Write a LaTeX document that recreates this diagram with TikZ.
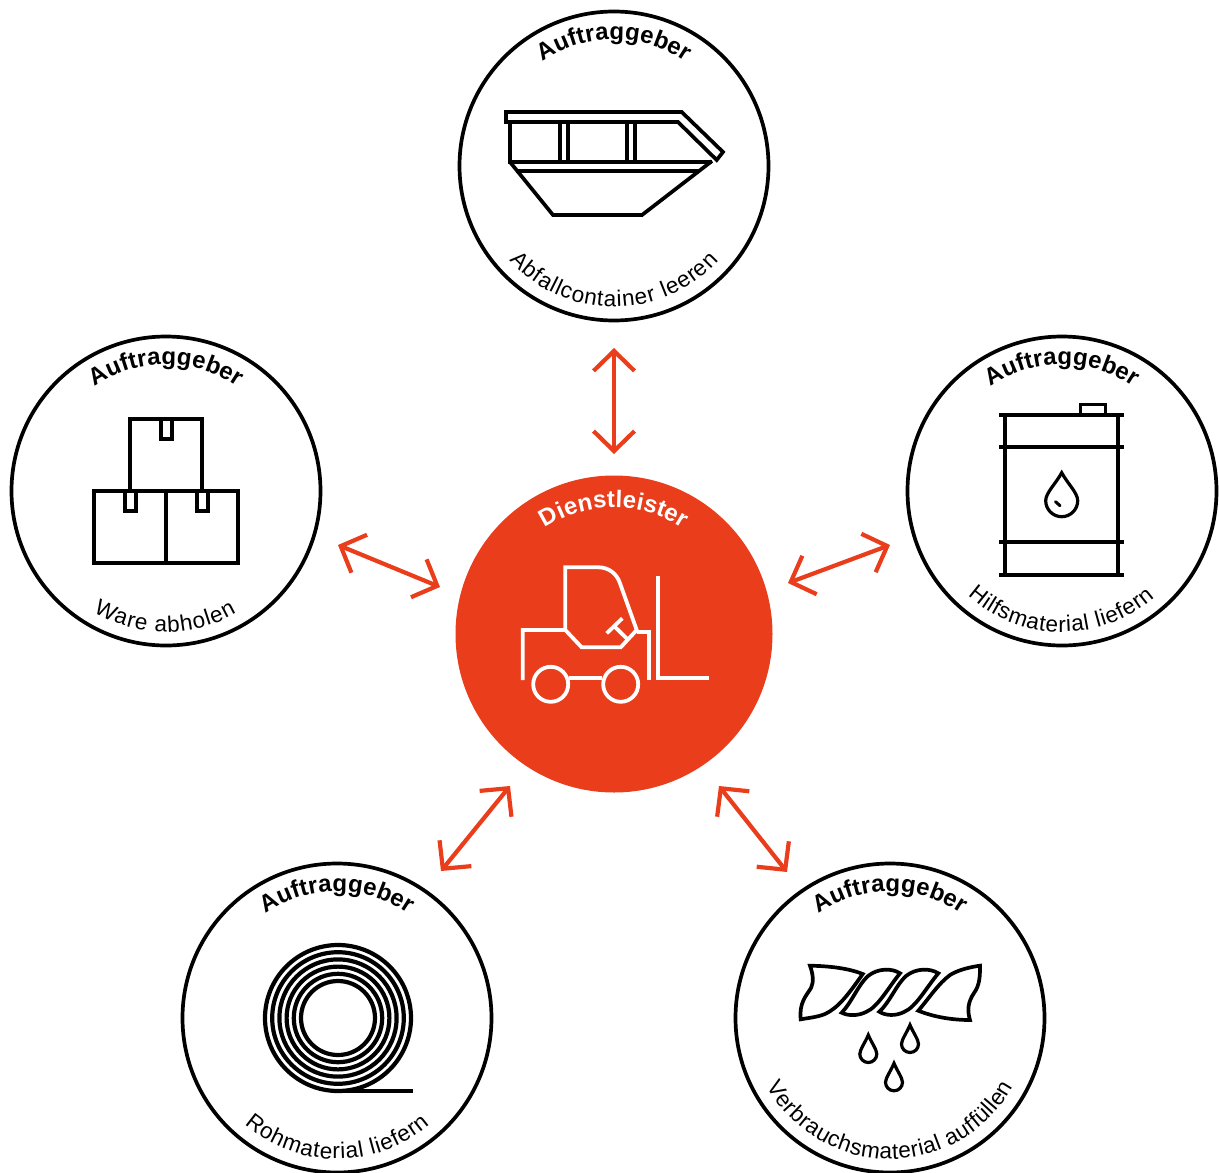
\documentclass[tikz,border=0pt]{standalone}
\usepackage{fontspec}
\setmainfont{Liberation Sans}
\usetikzlibrary{arrows.meta,decorations.text}
\definecolor{brandred}{HTML}{E93D1B}
\newcommand\hdfont{\bfseries\fontsize{24}{26}\selectfont}
\newcommand\lbfont{\fontsize{22.5}{25}\selectfont}
\newcommand\arctext[6]{% cx,cy,radius,start,end,text
  \begin{scope}[shift={(#1,#2)},y=1pt]
    \path[decorate,decoration={text along path,text align=fit to path,text={#6}}]
      (#4:#3) arc[start angle=#4,end angle=#5,radius=#3];
  \end{scope}}
\newcommand\dropshape[4]{% x,y(centre),r,h(tip above centre)
  \draw[iconline,line width=3.2pt] (#1,#2-#4) .. controls (#1+0.35*#3,#2-0.62*#4) and (#1+#3,#2-0.5*#3) .. (#1+#3,#2)
    .. controls (#1+#3,#2+0.55*#3) and (#1+0.55*#3,#2+#3) .. (#1,#2+#3)
    .. controls (#1-0.55*#3,#2+#3) and (#1-#3,#2+0.55*#3) .. (#1-#3,#2)
    .. controls (#1-#3,#2-0.5*#3) and (#1-0.35*#3,#2-0.62*#4) .. cycle;}
\tikzset{
  client/.style={circle,draw=black,line width=3.7pt,fill=white,minimum size=309pt,inner sep=0pt},
  provider/.style={circle,fill=brandred,minimum size=317pt,inner sep=0pt},
  biarrow/.style={draw=brandred,line width=4.2pt,{Straight Barb[length=20pt,width=41pt,line width=4.2pt]}-{Straight Barb[length=20pt,width=41pt,line width=4.2pt]}},
  iconline/.style={draw=black,line width=3.7pt,line join=miter},
  liftline/.style={draw=white,line width=3.8pt,line join=miter},
}
\begin{document}
\begin{tikzpicture}[x=1pt,y=-1pt]
\useasboundingbox (0,0) rectangle (1219,1173);
\node[client] (ctop) at (614,166) {};
\node[client] (cleft) at (166,491) {};
\node[client] (cright) at (1062,491) {};
\node[client] (cbl) at (337,1018) {};
\node[client] (cbr) at (890,1018) {};
\node[provider] (prov) at (614,634) {};
% arrows
\coordinate (a1) at (614,348); \coordinate (a2) at (614,454);
\coordinate (b1) at (338,545); \coordinate (b2) at (440,587);
\coordinate (c1) at (890,545); \coordinate (c2) at (788,583);
\coordinate (d1) at (441,871); \coordinate (d2) at (510,786);
\coordinate (e1) at (787,872); \coordinate (e2) at (719,786);
\draw[biarrow] (a1) -- (a2);
\draw[biarrow] (b1) -- (b2);
\draw[biarrow] (c1) -- (c2);
\draw[biarrow] (d1) -- (d2);
\draw[biarrow] (e1) -- (e2);
% texts
\arctext{614}{166}{126.5}{124.5}{55.5}{|\hdfont|Auftraggeber}
\arctext{166}{491}{126.5}{124.5}{55.5}{|\hdfont|Auftraggeber}
\arctext{1062}{491}{126.5}{124.5}{55.5}{|\hdfont|Auftraggeber}
\arctext{337}{1018}{126.5}{124.5}{55.5}{|\hdfont|Auftraggeber}
\arctext{890}{1018}{126.5}{124.5}{55.5}{|\hdfont|Auftraggeber}
\arctext{614}{634}{126.5}{123}{57}{|\hdfont\color{white}|Dienstleister}
\arctext{614}{166}{141}{222}{318}{|\lbfont|Abfallcontainer leeren}
\arctext{166}{491}{141}{239}{300}{|\lbfont|Ware abholen}
\arctext{1062}{491}{141}{228}{311}{|\lbfont|Hilfsmaterial liefern}
\arctext{337}{1018}{141}{229}{311}{|\lbfont|Rohmaterial liefern}
\arctext{890}{1018}{141}{209}{331}{|\lbfont|Verbrauchsmaterial auffüllen}
% skip
\draw[iconline] (506,112) -- (681.7,112) -- (723,152) -- (716.7,160) -- (678,122) -- (506,122) -- cycle;
\draw[iconline] (510,122) -- (510,162) -- (712,162);
\draw[iconline] (516,170.7) -- (699,170.7);
\draw[iconline] (510,162) -- (553,215) -- (642,215) -- (712,161);
\foreach \px in {560,568.3,626.7,635} \draw[iconline] (\px,122) -- (\px,162);
% forklift
\draw[liftline] (522.7,680) -- (522.7,630) -- (565.3,630) -- (565.3,567.3) -- (598.3,567.3)
  .. controls (609,567.3) and (617,574) .. (620,583.3) -- (636.7,630) -- (620.7,647.3) -- (581.7,647.3) -- (565.3,630);
\draw[liftline] (636.7,631.7) -- (649,631.7) -- (649,680);
\draw[liftline] (658.3,576) -- (658.3,678.3) -- (709.3,678.3);
\draw[liftline] (550.7,684.3) circle[radius=17.5];
\draw[liftline] (620.7,684.3) circle[radius=17.5];
\draw[liftline] (569.3,678.3) -- (601.7,678.3);
\draw[liftline] (606.7,633.3) -- (622.3,618.3);
\draw[liftline] (614,626) -- (628.3,640);
% drum
\foreach \py in {415,447.3,542.3,575} \draw[iconline] (999.3,\py) -- (1124,\py);
\draw[iconline] (1005,415) -- (1005,575);
\draw[iconline] (1118.3,415) -- (1118.3,575);
\draw[iconline,line width=3pt] (1080,414) -- (1080,404.8) -- (1105,404.8) -- (1105,414);
\dropshape{1061.7}{500.7}{16}{28}
\draw[iconline,line width=3pt,line cap=round] (1055.5,501.7) -- (1060,505.7);
% boxes
\draw[iconline] (130,491) -- (130,419.3) -- (201.7,419.3) -- (201.7,491);
\draw[iconline] (94,491) rectangle (237.7,563.3);
\draw[iconline] (166,491) -- (166,563.3);
\draw[iconline] (160.7,419.3) -- (160.7,439.3) -- (171.7,439.3) -- (171.7,419.3);
\draw[iconline] (125,491) -- (125,511) -- (136,511) -- (136,491);
\draw[iconline] (196.7,491) -- (196.7,511) -- (207.7,511) -- (207.7,491);
% coil
\foreach \rr in {73,65.8,58.6,51.4,44.2,37} \draw[iconline,line width=4.2pt] (338,1018) circle[radius=\rr];
\draw[iconline,line width=4.2pt] (338,1091) -- (413,1091);
% rope
\draw[iconline] (810,965.7) .. controls (828,966) and (848,968) .. (862.7,974)
  .. controls (848,995) and (838,1008) .. (825,1014) .. controls (818,1017) and (808,1018) .. (800.7,1019.3)
  .. controls (799,1003) and (806,996) .. (811,988) .. controls (814,982) and (813,974) .. (810,965.7) -- cycle;
\draw[iconline] (841.7,1012.7) .. controls (852,1002) and (858,985) .. (868,976)
  .. controls (878,968) and (892,968) .. (900,973.3)
  .. controls (888,988) and (878,1007) .. (866,1012) .. controls (858,1016) and (848,1016) .. (841.7,1012.7) -- cycle;
\draw[iconline] (879.3,1011.7) .. controls (890,1002) and (896,985) .. (906,976)
  .. controls (916,968) and (930,968) .. (938.3,973.3)
  .. controls (926,988) and (916,1007) .. (904,1012) .. controls (896,1016) and (886,1016) .. (879.3,1011.7) -- cycle;
\draw[iconline] (918.3,1010.7) .. controls (930,997) and (938,984) .. (950,975)
  .. controls (958,970) and (970,967) .. (980,965.7)
  .. controls (980,975) and (980,985) .. (974,993) .. controls (968,1002) and (967,1010) .. (970,1020)
  .. controls (952,1020) and (934,1017) .. (918.3,1010.7) -- cycle;
\dropshape{868.3}{1054}{8.5}{19}
\dropshape{910}{1044}{8.5}{19}
\dropshape{894}{1082.3}{8.5}{19}
\end{tikzpicture}
\end{document}
